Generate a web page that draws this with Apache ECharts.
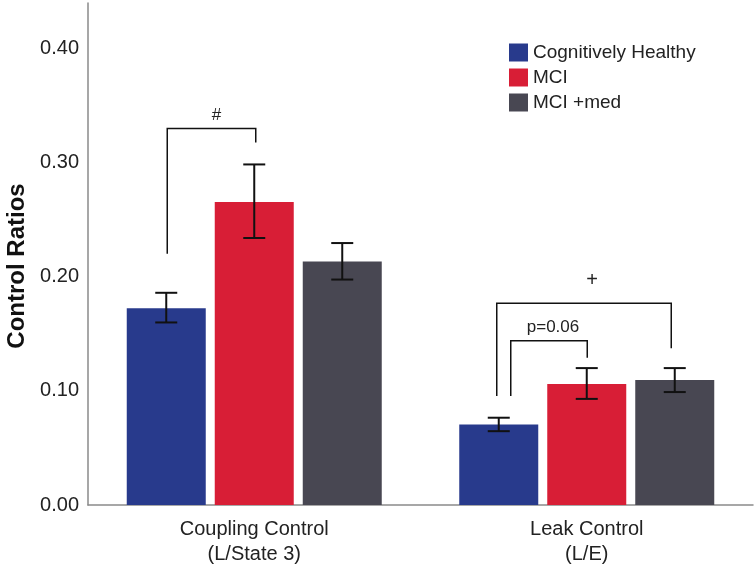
<!DOCTYPE html>
<html>
<head>
<meta charset="utf-8">
<script src="https://cdn.jsdelivr.net/npm/echarts@6/dist/echarts.min.js"></script>
<style>html,body{margin:0;padding:0;background:#fff}#c{width:756px;height:566px}</style>
</head>
<body>
<div id="c"></div>
<script>
// ---- data ----
const categories = ['Coupling Control\n(L/State 3)', 'Leak Control\n(L/E)'];
const seriesNames = ['Cognitively Healthy', 'MCI', 'MCI +med'];
const healthy = [0.1725, 0.0706];
const mci = [0.2655, 0.106];
const mciMed = [0.2134, 0.1095];
const healthyErr = [[0.160, 0.186], [0.0647, 0.0765]];
const mciErr = [[0.234, 0.2985], [0.093, 0.120]];
const mciMedErr = [[0.1976, 0.2296], [0.099, 0.120]];
const yTicks = [0, 0.1, 0.2, 0.3, 0.4];
// brackets: [category, fromSeries, toSeries, topY, leftLegEnd, rightLegEnd, label]
const brackets = [
  [0, 0, 1, 0.330, 0.2202, 0.3178, '#'],
  [1, 0, 2, 0.1769, 0.0956, 0.1375, '+'],
  [1, 0, 1, 0.1439, 0.0956, 0.129, 'p=0.06']
];

// ---- rendering ----
const colors = ['#283a8c', '#d81e36', '#484752'];
const BAR_W = 79, GAP = 9, STEP = BAR_W + GAP;
const FONT = 'Liberation Sans, Arial, sans-serif';
const bracketNudge = [[1, 1.5], [-2, -3.5], [12, 0.5]];
const labelNudge = [[5, -13], [8, -23], [4, -14]];
const labelSize = [17, 20, 17];

const errData = [];
[healthyErr, mciErr, mciMedErr].forEach((arr, s) => {
  arr.forEach((e, c) => errData.push([c, e[0], e[1], s]));
});

const chart = echarts.init(document.getElementById('c'), null, {renderer: 'canvas'});
chart.setOption({
  animation: false,
  textStyle: {fontFamily: FONT},
  grid: {left: 88, right: 3, top: 3, bottom: 61, containLabel: false, outerBoundsMode: 'none'},
  legend: {
    data: seriesNames,
    orient: 'vertical',
    left: 509, top: 43,
    padding: 0,
    itemWidth: 19, itemHeight: 18, itemGap: 6,
    icon: 'rect',
    textStyle: {fontSize: 19, color: '#222', fontFamily: FONT},
    selectedMode: false
  },
  xAxis: {
    type: 'category',
    data: categories,
    axisLine: {lineStyle: {color: '#8a8a8a', width: 1.5}},
    axisTick: {show: false},
    axisLabel: {fontSize: 20, color: '#222', lineHeight: 25, margin: 12, fontFamily: FONT}
  },
  yAxis: {
    type: 'value',
    min: 0, max: 0.44, interval: 0.1,
    name: 'Control Ratios',
    nameLocation: 'middle',
    nameGap: 58,
    nameTextStyle: {fontSize: 24, fontWeight: 'bold', color: '#111', fontFamily: FONT, padding: [0, 24, 0, 0]},
    axisLine: {show: true, lineStyle: {color: '#8a8a8a', width: 1.5}},
    axisTick: {show: false},
    splitLine: {show: false},
    axisLabel: {
      fontSize: 20, color: '#222', margin: 9, fontFamily: FONT, showMaxLabel: false,
      formatter: v => (yTicks.some(t => Math.abs(t - v) < 1e-9) ? v.toFixed(2) : '')
    }
  },
  series: [
    {name: seriesNames[0], type: 'bar', data: healthy, barWidth: BAR_W, barGap: (GAP / BAR_W * 100) + '%', itemStyle: {color: colors[0]}},
    {name: seriesNames[1], type: 'bar', data: mci, barWidth: BAR_W, barGap: (GAP / BAR_W * 100) + '%', itemStyle: {color: colors[1]}},
    {name: seriesNames[2], type: 'bar', data: mciMed, barWidth: BAR_W, barGap: (GAP / BAR_W * 100) + '%', itemStyle: {color: colors[2]}},
    {
      type: 'custom', name: 'err', z: 5,
      data: errData,
      encode: {x: 0, y: [1, 2]},
      renderItem: function (params, api) {
        const c = api.value(0), s = api.value(3);
        const lo = api.coord([c, api.value(1)]);
        const hi = api.coord([c, api.value(2)]);
        const x = lo[0] + (s - 1) * STEP;
        const hw = 11;
        const st = {stroke: '#111', lineWidth: 2};
        return {type: 'group', children: [
          {type: 'line', shape: {x1: x, y1: lo[1], x2: x, y2: hi[1]}, style: st},
          {type: 'line', shape: {x1: x - hw, y1: lo[1], x2: x + hw, y2: lo[1]}, style: st},
          {type: 'line', shape: {x1: x - hw, y1: hi[1], x2: x + hw, y2: hi[1]}, style: st}
        ]};
      }
    },
    {
      type: 'custom', name: 'brackets', z: 6,
      data: brackets.map(b => [b[0], b[3], b[4], b[5], b[1], b[2]]),
      encode: {x: 0, y: [1, 2, 3]},
      renderItem: function (params, api) {
        const i = params.dataIndex;
        const c = api.value(0);
        const top = api.coord([c, api.value(1)]);
        const lEnd = api.coord([c, api.value(2)]);
        const rEnd = api.coord([c, api.value(3)]);
        const n = bracketNudge[i];
        const xl = top[0] + (api.value(4) - 1) * STEP + n[0];
        const xr = top[0] + (api.value(5) - 1) * STEP + n[1];
        const st = {stroke: '#111', lineWidth: 1.5};
        return {type: 'group', children: [
          {type: 'polyline', shape: {points: [[xl, lEnd[1]], [xl, top[1]], [xr, top[1]], [xr, rEnd[1]]]}, style: Object.assign({fill: null}, st)},
          {type: 'text', style: {
            text: brackets[i][6], x: (xl + xr) / 2 + labelNudge[i][0], y: top[1] + labelNudge[i][1],
            textAlign: 'center', textVerticalAlign: 'middle',
            fontSize: labelSize[i], fill: '#222', fontFamily: FONT
          }}
        ]};
      }
    }
  ]
});
</script>
</body>
</html>
